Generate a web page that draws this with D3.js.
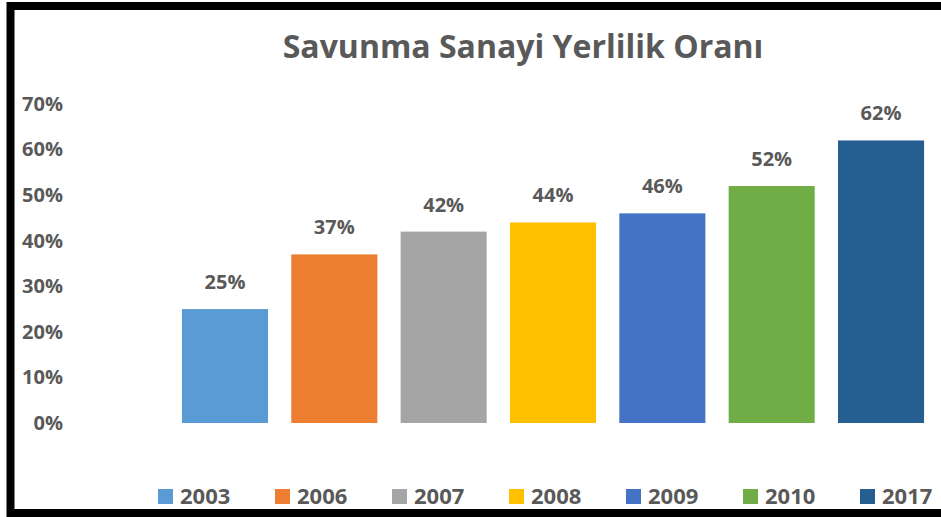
<!DOCTYPE html>
<html>
<head>
<meta charset="utf-8">
<script src="https://cdn.jsdelivr.net/npm/d3@7"></script>
<style>
  html, body { margin: 0; padding: 0; background: #fff; }
  svg { display: block; font-family: "Open Sans", "Liberation Sans", sans-serif; }
</style>
</head>
<body>
<div id="chart"></div>
<script>
// DATA
const years = ['2003', '2006', '2007', '2008', '2009', '2010', '2017'];
const values = [25, 37, 42, 44, 46, 52, 62];
const colors = ['#5B9BD5', '#ED7D31', '#A5A5A5', '#FFC000', '#4472C4', '#70AD47', '#255E91'];
const yTicks = [0, 10, 20, 30, 40, 50, 60, 70];
const title = 'Savunma Sanayi Yerlilik Oranı';

const width = 941, height = 517;
const textColor = '#595959';

const svg = d3.select('#chart').append('svg')
    .attr('width', width)
    .attr('height', height);

// frame
svg.append('rect').attr('x', 0).attr('y', 0).attr('width', width).attr('height', height).attr('fill', '#fff');
svg.append('rect')
    .attr('x', 10.5).attr('y', 6).attr('width', width).attr('height', 507)
    .attr('fill', 'none').attr('stroke', '#000').attr('stroke-width', 8);

// SCALES
const x = d3.scaleBand()
    .domain(years)
    .range([170.3, 935.7])
    .paddingInner(0.213)
    .paddingOuter(0.1065);

const y = d3.scaleLinear()
    .domain([0, 70])
    .range([423, 104]);

// title
svg.append('text')
    .attr('x', 523).attr('y', 58)
    .attr('text-anchor', 'middle')
    .attr('fill', textColor)
    .attr('font-size', 32)
    .attr('font-weight', 700)
    .text(title);

// y axis labels
svg.append('g')
    .attr('transform', 'translate(63,0)')
    .call(d3.axisLeft(y).tickValues(yTicks).tickSize(0).tickPadding(0).tickFormat(d => d + '%'))
    .call(g => g.select('.domain').remove())
    .call(g => g.selectAll('text')
        .attr('fill', textColor)
        .attr('font-size', 20)
        .attr('font-weight', 700)
        .attr('font-family', '"Open Sans", sans-serif'));

// bars
svg.selectAll('rect.bar')
    .data(years)
    .join('rect')
    .attr('class', 'bar')
    .attr('x', d => x(d))
    .attr('width', x.bandwidth())
    .attr('y', (d, i) => y(values[i]))
    .attr('height', (d, i) => y(0) - y(values[i]))
    .attr('fill', (d, i) => colors[i]);

// data labels
svg.selectAll('text.lbl')
    .data(years)
    .join('text')
    .attr('class', 'lbl')
    .attr('x', d => x(d) + x.bandwidth() / 2)
    .attr('y', (d, i) => y(values[i]) - 20)
    .attr('text-anchor', 'middle')
    .attr('fill', textColor)
    .attr('font-size', 20)
    .attr('font-weight', 700)
    .text((d, i) => values[i] + '%');

// legend
const legendX = d3.scalePoint().domain(years).range([158, 860]);
const leg = svg.selectAll('g.leg')
    .data(years)
    .join('g')
    .attr('class', 'leg')
    .attr('transform', d => `translate(${legendX(d)},489)`);
leg.append('rect')
    .attr('width', 15).attr('height', 15)
    .attr('fill', (d, i) => colors[i]);
leg.append('text')
    .attr('x', 22).attr('y', 15)
    .attr('fill', textColor)
    .attr('font-size', 22)
    .attr('font-weight', 700)
    .text(d => d);
</script>
</body>
</html>
